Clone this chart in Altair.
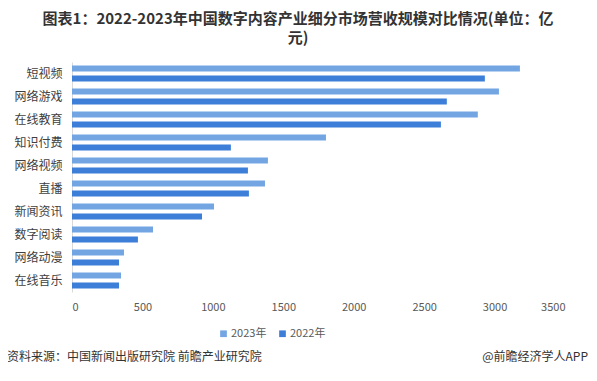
import altair as alt
import pandas as pd

categories = ["短视频", "网络游戏", "在线教育", "知识付费", "网络视频", "直播",
              "新闻资讯", "数字阅读", "网络动漫", "在线音乐"]
values_2023 = [3180, 3031, 2881, 1803, 1391, 1370, 1008, 575, 369, 348]
values_2022 = [2931, 2661, 2619, 1128, 1249, 1256, 923, 468, 334, 334]
series = ["2023年", "2022年"]
x_ticks = [0, 500, 1000, 1500, 2000, 2500, 3000, 3500]

title_lines = ["图表1：2022-2023年中国数字内容产业细分市场营收规模对比情况(单位：亿", "元)"]
source_text = "资料来源：中国新闻出版研究院 前瞻产业研究院"
brand_text = "@前瞻经济学人APP"

rows = []
for c, a, b in zip(categories, values_2023, values_2022):
    rows.append({"cat": c, "year": series[0], "val": a})
    rows.append({"cat": c, "year": series[1], "val": b})
df = pd.DataFrame(rows)

FONT = "Noto Sans CJK SC"
colors = ["#73A5E3", "#3D7FD8"]

bars = alt.Chart(df).mark_bar().encode(
    y=alt.Y("cat:N", sort=categories, title=None,
            scale=alt.Scale(paddingInner=0.3, paddingOuter=0.15),
            axis=alt.Axis(ticks=False, domainColor="#d9d9d9", labelFontSize=12,
                          labelColor="#404040", labelPadding=10, labelFont=FONT)),
    x=alt.X("val:Q", title=None,
            scale=alt.Scale(domain=[0, 3500], nice=False),
            axis=alt.Axis(values=x_ticks, format="d", grid=False, ticks=False, domain=False,
                          labelFontSize=11, labelColor="#595959", labelPadding=9,
                          labelFont=FONT)),
    yOffset=alt.YOffset("year:N", sort=series,
                        scale=alt.Scale(paddingInner=0.4, paddingOuter=0)),
    color=alt.Color("year:N", sort=series,
                    scale=alt.Scale(domain=series, range=colors),
                    legend=alt.Legend(title=None, orient="none", direction="horizontal",
                                      legendX=146, legendY=266, symbolType="square",
                                      symbolSize=45, labelFontSize=11, labelColor="#595959",
                                      labelFont=FONT, columnPadding=10, labelOffset=2)),
)

def text_layer(txt, x, y, size, color, weight="normal", align="left"):
    return alt.Chart(pd.DataFrame({"t": [txt]})).mark_text(
        font=FONT, fontSize=size, color=color, fontWeight=weight,
        align=align, baseline="middle"
    ).encode(text="t:N", x=alt.value(x), y=alt.value(y))

title = alt.Chart(pd.DataFrame({"t": [0]})).mark_text(
    font=FONT, fontSize=15, color="#333333", fontWeight="bold",
    align="center", baseline="top", lineHeight=19
).encode(text=alt.value(title_lines), x=alt.value(226), y=alt.value(-50))

src = text_layer(source_text, -65, 295, 12, "#333333")
brand = text_layer(brand_text, 516, 295, 12, "#333333", align="right")

chart = alt.layer(bars, title, src, brand).properties(
    width=493, height=230,
    autosize=alt.AutoSizeParams(type="none"),
    padding={"left": 64, "top": 54, "right": 24, "bottom": 81},
).configure_view(stroke=None)

chart.save("out.html", embed_options={"renderer": "svg", "actions": False})
